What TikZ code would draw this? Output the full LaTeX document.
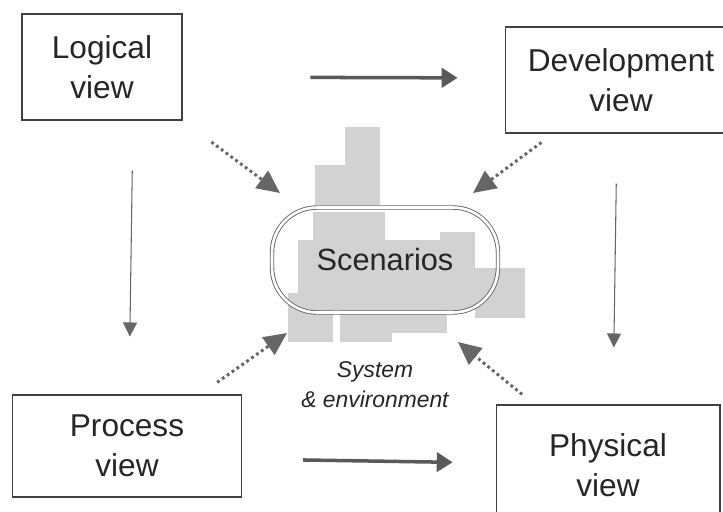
\documentclass[tikz,border=0pt]{standalone}
\usepackage{fontspec}
\setmainfont{Liberation Sans}
\usetikzlibrary{arrows.meta}

\begin{document}
\begin{tikzpicture}[x=0.02cm, y=-0.02cm]
    \tikzstyle{view} = [rectangle, draw=black!75, line width=0.6pt, align=center, inner sep=0pt, text=black!85, font=\fontsize{18}{23}\selectfont]
    \tikzstyle{block} = [fill=gray!35]
    \tikzstyle{flow} = [-{Triangle[length=9pt, width=11pt]}, line width=2pt, draw=black!65]
    \tikzstyle{refine} = [-{Triangle[length=8pt, width=8pt]}, line width=0.6pt, draw=black!60]
    \tikzstyle{feed} = [-{Triangle[length=13pt, width=12pt]}, line width=1.7pt, dash pattern=on 1.6pt off 1.8pt, draw=black!60]
    \useasboundingbox (0,0) rectangle (723,511);

    % the system seen as a block skyline
    \fill[block] (345,127) rectangle (380,205);
    \fill[block] (315,165) rectangle (345,205);
    \fill[block] (313,212) rectangle (385,300);
    \fill[block] (298,240) rectangle (440,300);
    \fill[block] (440,232) rectangle (475,300);
    \fill[block] (475,268) rectangle (525,318);
    \fill[block] (288,293) rectangle (493,310);
    \fill[block] (288,308) rectangle (333,342);
    \fill[block] (340,308) rectangle (447,333);
    \fill[block] (340,330) rectangle (392,342);

    \node[view, minimum width=3.2cm, minimum height=2.12cm] (logical) at (102,67) {Logical\\view};
    \node[view, minimum width=4.64cm, minimum height=2.12cm] (development) at (621,80) {Development\\view};
    \node[view, minimum width=4.58cm, minimum height=2.04cm] (process) at (127,446) {Process\\view};
    \node[view, minimum width=4.48cm, minimum height=2.4cm] (physical) at (608,465) {Physical\\view};

    \node[draw=black!60, double, double distance=1.5pt, line width=0.5pt, rounded corners=0.9cm, minimum width=4.52cm, minimum height=2.1cm, text=black!85, font=\fontsize{17.5}{21}\selectfont] (scen) at (385,260) {Scenarios};
    \node[align=center, text=black!85, font=\itshape\fontsize{13}{17}\selectfont] (sysenv) at (375,385) {System\\\& environment};

    \coordinate (tipLog) at (280,193);
    \coordinate (tipDev) at (473,193);
    \coordinate (tipPro) at (287,333);
    \coordinate (tipPhy) at (458,342);

    \draw[flow, shorten <=2.56cm, shorten >=0.94cm] ([yshift=-0.2cm]logical.east) -- ([yshift=0.04cm]development.west);
    \draw[flow, shorten <=1.22cm, shorten >=0.86cm] ([yshift=-0.26cm]process.east) -- ([yshift=0.04cm]physical.west);
    \draw[refine, shorten <=1cm, shorten >=1.16cm] ([xshift=0.62cm]logical.south) -- ([xshift=0.04cm]process.north);
    \draw[refine, shorten <=1cm, shorten >=1.14cm] ([xshift=-0.08cm]development.south) -- ([xshift=0.1cm]physical.north);

    \draw[feed, shorten <=0.72cm] (logical.south east) -- (tipLog);
    \draw[feed, shorten <=0.3cm] ([xshift=0.98cm]development.south west) -- (tipDev);
    \draw[feed, shorten <=0.42cm] ([xshift=-0.84cm]process.north east) -- (tipPro);
    \draw[feed, shorten <=0.32cm] ([xshift=0.78cm]physical.north west) -- (tipPhy);
\end{tikzpicture}
\end{document}
